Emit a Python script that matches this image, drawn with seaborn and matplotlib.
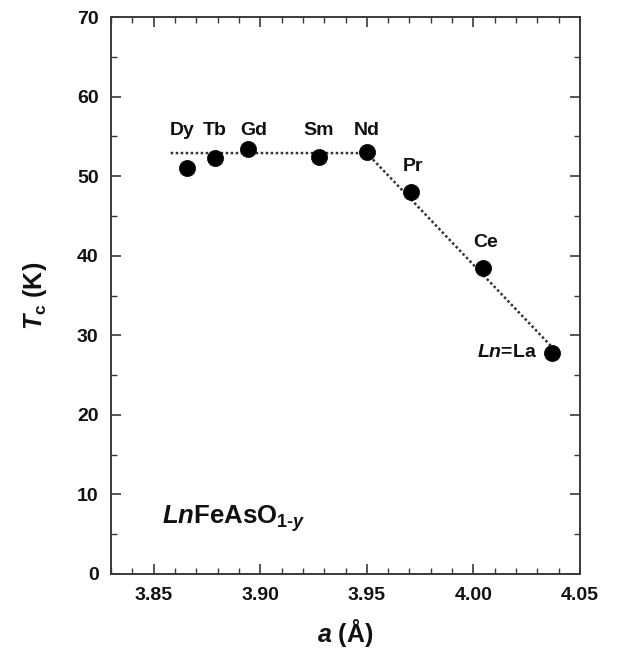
import matplotlib
matplotlib.use("Agg")
import matplotlib.pyplot as plt
from matplotlib.ticker import MultipleLocator
import seaborn as sns
import pandas as pd

# Lattice parameter a (Å) and superconducting Tc (K) for LnFeAsO1-y
elements = ["Dy", "Tb", "Gd", "Sm", "Nd", "Pr", "Ce", "La"]
a_values = [3.8656, 3.8787, 3.8943, 3.9275, 3.9500, 3.9708, 4.0047, 4.0367]
tc_values = [51.0, 52.3, 53.4, 52.4, 53.0, 48.0, 38.4, 27.8]

# Guide line: plateau, then linear drop
guide_a = [3.858, 3.950, 4.038]
guide_tc = [52.9, 52.9, 28.2]

# Label anchors (a, Tc) for each element name
label_a = [3.8636, 3.8787, 3.8970, 3.9274, 3.9500, 3.9718, 4.0055, 4.0300]
label_tc = [55.7, 55.7, 55.7, 55.7, 55.7, 51.2, 41.7, 27.8]

df = pd.DataFrame({"a": a_values, "Tc": tc_values, "Ln": elements})
guide = pd.DataFrame({"a": guide_a, "Tc": guide_tc})

sns.set_theme(style="ticks")
plt.rcParams.update({
    "font.family": ["Liberation Sans", "DejaVu Sans"],
    "font.weight": "bold",
    "mathtext.fontset": "custom",
    "mathtext.rm": "Liberation Sans:bold",
    "mathtext.it": "Liberation Sans:bold:italic",
    "mathtext.bf": "Liberation Sans:bold",
    "text.color": "#111111",
    "axes.labelcolor": "#111111",
    "axes.edgecolor": "#3a3a3a",
    "axes.linewidth": 1.4,
    "xtick.color": "#3a3a3a",
    "ytick.color": "#3a3a3a",
    "xtick.labelcolor": "#111111",
    "ytick.labelcolor": "#111111",
})

fig = plt.figure(figsize=(6.30, 6.52), dpi=100)
ax = fig.add_axes([111 / 630, 1 - 574 / 652, 469 / 630, 557 / 652])

sns.lineplot(data=guide, x="a", y="Tc", ax=ax, estimator=None, sort=False,
             color="#333333", linewidth=1.8, linestyle=(0, (1, 1)), zorder=2)
sns.scatterplot(data=df, x="a", y="Tc", ax=ax, color="black", s=135,
                edgecolor="black", linewidth=0.5, zorder=3, legend=False)

for name, xa, yt in zip(elements, label_a, label_tc):
    if name == "La":
        ax.text(xa, yt, r"$\mathit{Ln}$=La", ha="right", va="center",
                fontsize=14, fontweight="bold")
    else:
        ax.text(xa, yt, name, ha="center", va="center",
                fontsize=14, fontweight="bold")

ax.text(3.8540, 7.0, r"$\mathit{Ln}$FeAsO$_{1\text{-}\mathit{y}}$", ha="left",
        va="center", fontsize=18.5, fontweight="bold")

ax.set_xlim(3.83, 4.05)
ax.set_ylim(0, 70)
ax.xaxis.set_major_locator(MultipleLocator(0.05))
ax.xaxis.set_minor_locator(MultipleLocator(0.01))
ax.yaxis.set_major_locator(MultipleLocator(10))
ax.yaxis.set_minor_locator(MultipleLocator(5))
ax.set_xticks([3.85, 3.90, 3.95, 4.00, 4.05])
ax.set_xticklabels(["3.85", "3.90", "3.95", "4.00", "4.05"])
ax.tick_params(which="both", direction="in", top=True, right=True,
               labelsize=14)
ax.tick_params(axis="y", pad=9)
ax.tick_params(axis="x", pad=9)
ax.tick_params(which="major", length=7, width=1.2)
ax.tick_params(which="minor", length=4, width=1.0)
for lbl in ax.get_xticklabels() + ax.get_yticklabels():
    lbl.set_fontweight("bold")

ax.set_xlabel(r"$\mathit{a}$ (Å)", fontsize=18, fontweight="bold", labelpad=10)
ax.set_ylabel(r"$\mathit{T}_\mathregular{c}$ (K)", fontsize=18,
              fontweight="bold", labelpad=20)

fig.savefig("out.png", dpi=100)
